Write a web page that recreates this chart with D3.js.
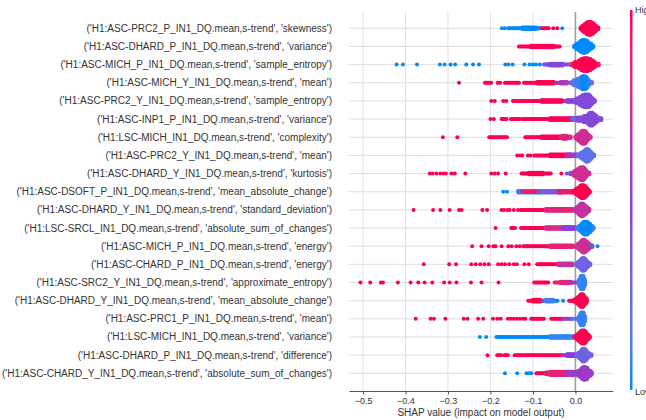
<!DOCTYPE html>
<html>
<head>
<meta charset="utf-8">
<script src="https://cdn.jsdelivr.net/npm/d3@7"></script>
<style>
  html, body { margin: 0; padding: 0; background: #fff; }
  svg { display: block; font-family: "Liberation Sans", Arial, sans-serif; }
</style>
</head>
<body>
<div id="chart"></div>
<script>
// feature names, top to bottom
const features = [
  "('H1:ASC-PRC2_P_IN1_DQ.mean,s-trend', 'skewness')",
  "('H1:ASC-DHARD_P_IN1_DQ.mean,s-trend', 'variance')",
  "('H1:ASC-MICH_P_IN1_DQ.mean,s-trend', 'sample_entropy')",
  "('H1:ASC-MICH_Y_IN1_DQ.mean,s-trend', 'mean')",
  "('H1:ASC-PRC2_Y_IN1_DQ.mean,s-trend', 'sample_entropy')",
  "('H1:ASC-INP1_P_IN1_DQ.mean,s-trend', 'variance')",
  "('H1:LSC-MICH_IN1_DQ.mean,s-trend', 'complexity')",
  "('H1:ASC-PRC2_Y_IN1_DQ.mean,s-trend', 'mean')",
  "('H1:ASC-DHARD_Y_IN1_DQ.mean,s-trend', 'kurtosis')",
  "('H1:ASC-DSOFT_P_IN1_DQ.mean,s-trend', 'mean_absolute_change')",
  "('H1:ASC-DHARD_Y_IN1_DQ.mean,s-trend', 'standard_deviation')",
  "('H1:LSC-SRCL_IN1_DQ.mean,s-trend', 'absolute_sum_of_changes')",
  "('H1:ASC-MICH_P_IN1_DQ.mean,s-trend', 'energy')",
  "('H1:ASC-CHARD_P_IN1_DQ.mean,s-trend', 'energy')",
  "('H1:ASC-SRC2_Y_IN1_DQ.mean,s-trend', 'approximate_entropy')",
  "('H1:ASC-DHARD_Y_IN1_DQ.mean,s-trend', 'mean_absolute_change')",
  "('H1:ASC-PRC1_P_IN1_DQ.mean,s-trend', 'mean')",
  "('H1:LSC-MICH_IN1_DQ.mean,s-trend', 'variance')",
  "('H1:ASC-DHARD_P_IN1_DQ.mean,s-trend', 'difference')",
  "('H1:ASC-CHARD_Y_IN1_DQ.mean,s-trend', 'absolute_sum_of_changes')"
];

// single dots: [shap value, feature value 0..1]
const singleDots = [
  [[-0.173,0],[-0.166,0],[-0.052,1],[-0.043,1],[-0.031,0]],
  [],
  [[-0.421,0],[-0.406,0],[-0.373,0],[-0.319,0],[-0.308,0],[-0.294,0],[-0.283,0],[-0.257,0],[-0.241,0],[-0.227,0],
   [-0.165,0],[-0.158,0],[-0.148,0],[-0.12,0],[-0.108,0],[-0.1,0],[-0.093,0],[-0.084,0]],
  [[-0.274,1]],
  [[-0.198,1],[-0.19,1],[-0.17,1],[-0.163,1]],
  [[-0.2,1],[-0.192,1]],
  [[-0.312,1],[-0.278,1]],
  [[-0.137,1],[-0.131,1],[-0.125,1],[-0.112,1],[-0.106,1]],
  [[-0.343,1],[-0.336,1],[-0.327,1],[-0.318,1],[-0.311,1],[-0.305,1],[-0.292,1],[-0.284,1],[-0.259,1],
   [-0.198,1],[-0.19,1],[-0.182,1],[-0.164,1],[-0.033,1],[-0.02,0.45]],
  [[-0.17,0],[-0.161,0]],
  [[-0.381,1],[-0.335,1],[-0.318,1],[-0.296,1],[-0.274,1],[-0.268,1],[-0.219,1],[-0.208,1],
   [-0.174,1],[-0.168,1],[-0.16,1],[-0.155,1],[-0.145,1],[-0.135,1]],
  [[-0.188,1]],
  [[-0.243,1],[-0.221,1],[-0.204,1],[-0.193,1],[-0.188,1],[-0.174,1],[-0.158,1],[-0.15,1],[-0.139,1],
   [-0.131,1],[-0.123,1],[0.038,0],[0.052,0]],
  [[-0.357,1],[-0.297,1],[-0.281,1],[-0.245,1],[-0.235,1],[-0.224,1],[-0.214,1],[-0.204,1],[-0.182,1],
   [-0.174,1],[-0.166,1],[-0.156,1],[-0.145,1],[-0.138,1],[-0.12,1],[-0.11,1]],
  [[-0.506,1],[-0.483,1],[-0.458,1],[-0.453,1],[-0.418,1],[-0.388,1],[-0.37,1],[-0.355,1],[-0.337,1],
   [-0.309,1],[-0.296,1],[-0.28,1],[-0.246,1],[-0.221,1],[-0.181,1]],
  [[-0.029,0]],
  [[-0.376,1],[-0.341,1],[-0.333,1],[-0.306,1],[-0.263,1],[-0.254,1],[-0.229,1],[-0.217,1],[-0.194,1],
   [-0.184,1],[-0.176,1],[-0.159,1],[-0.152,1],[-0.145,1],[-0.138,1],[-0.131,1],[-0.124,1],[-0.118,1]],
  [[-0.225,0],[-0.21,0]],
  [[-0.207,1]],
  [[-0.166,0],[-0.137,0],[-0.115,0],[-0.11,0],[-0.104,0]]
];

// dense runs: [shap from, shap to, stack count, feature value 0..1]
const denseRuns = [
  [[-0.158,-0.08,1,0],[-0.125,-0.09,2,0],[-0.078,-0.062,1,1],
   [0.012,0.055,2,1],[0.016,0.05,4,1],[0.021,0.046,6,1],[0.026,0.041,8,1],[0.03,0.037,9,1]],
  [[-0.133,-0.035,1,1],[-0.105,-0.05,2,1],
   [-0.003,0.043,2,0],[0.002,0.039,4,0],[0.008,0.034,6,0],[0.013,0.029,8,0],[0.017,0.025,9,0]],
  [[-0.075,-0.065,1,0.2],[-0.068,-0.01,1,0.45],[-0.06,-0.03,2,0.45],[-0.012,0.0,1,0.3],
   [-0.008,0.055,2,0.9],[-0.002,0.048,4,1],[0.008,0.042,6,1],[0.014,0.036,8,1],[0.02,0.03,9,1]],
  [[-0.213,-0.198,1,1],[-0.183,-0.175,1,1],[-0.166,-0.131,1,1],[-0.121,-0.045,1,1],[-0.09,-0.05,2,1],
   [-0.045,-0.015,1,0.55],[-0.035,-0.02,2,0.6],
   [-0.009,0.04,2,0.2],[-0.004,0.034,4,0.15],[0.005,0.03,6,0.1],[0.012,0.027,8,0.05],[0.017,0.024,9,0]],
  [[-0.147,-0.025,1,1],[-0.08,-0.03,2,1],[-0.025,-0.003,1,0.55],[-0.02,-0.005,2,0.5],
   [-0.005,0.048,2,0.45],[0.002,0.043,4,0.45],[0.01,0.039,6,0.45],[0.016,0.035,8,0.45],[0.022,0.032,9,0.45]],
  [[-0.174,-0.16,1,1],[-0.152,-0.13,1,1],[-0.125,-0.005,1,1],[-0.06,-0.005,2,1],[-0.01,0.0,2,0.5],
   [-0.005,0.062,2,0.45],[-0.004,0.006,2,0.25],[0.005,0.055,3,0.45],[0.02,0.05,5,0.45],[0.03,0.045,7,0.45],[0.034,0.041,9,0.45]],
  [[-0.203,-0.16,1,1],[-0.118,-0.036,1,1],[-0.08,-0.036,2,1],[-0.035,-0.01,2,0.8],[-0.03,-0.02,3,0.85],
   [0.0,0.036,2,0.75],[0.004,0.032,4,0.75],[0.009,0.028,6,0.75],[0.013,0.025,8,0.75],[0.016,0.022,9,0.75]],
  [[-0.097,-0.01,1,1],[-0.06,-0.01,2,1],[-0.02,0.005,2,0.55],
   [0.005,0.045,2,0.25],[0.012,0.04,4,0.2],[0.018,0.037,6,0.2],[0.023,0.034,8,0.2],[0.026,0.031,9,0.2]],
  [[-0.127,-0.057,1,1],[-0.11,-0.075,2,1],[-0.012,-0.003,2,0.4],
   [-0.006,0.033,2,0.75],[-0.003,0.028,4,0.75],[0.003,0.025,6,0.75],[0.009,0.022,8,0.75],[0.013,0.019,9,0.75]],
  [[-0.135,-0.085,2,0.05],[-0.125,-0.06,1,0.9],[-0.085,-0.03,2,0.35],[-0.04,-0.005,2,0.9],
   [-0.005,0.036,2,1],[0.0,0.031,4,1],[0.006,0.027,6,1],[0.011,0.023,8,1],[0.014,0.02,9,1]],
  [[-0.129,-0.005,1,1],[-0.07,-0.005,2,0.85],
   [-0.003,0.034,2,0.7],[0.002,0.03,4,0.7],[0.007,0.026,6,0.7],[0.011,0.022,8,0.7],[0.014,0.019,9,0.7]],
  [[-0.151,-0.14,1,1],[-0.128,-0.005,1,1],[-0.07,-0.005,2,0.8],[-0.03,0.0,2,0.5],
   [0.004,0.045,2,0.05],[0.009,0.04,4,0.05],[0.014,0.035,6,0],[0.018,0.031,8,0],[0.021,0.027,9,0]],
  [[-0.119,-0.005,1,1],[-0.06,-0.005,2,0.85],
   [0.001,0.04,2,0.75],[0.006,0.035,4,0.75],[0.011,0.03,6,0.75],[0.015,0.026,8,0.75],[0.018,0.023,9,0.75]],
  [[-0.09,-0.04,1,1],[-0.04,-0.005,2,0.7],
   [0.002,0.037,2,0.3],[0.006,0.032,4,0.3],[0.011,0.028,6,0.3],[0.014,0.025,8,0.3],[0.017,0.022,9,0.3]],
  [[-0.097,-0.064,1,1],[-0.049,-0.009,1,0.9],[-0.035,-0.01,2,0.8],[-0.008,0.004,1,0.5],
   [0.008,0.024,4,0.1],[0.011,0.021,7,0.05],[0.013,0.019,9,0.05]],
  [[-0.111,-0.072,1,1],[-0.1,-0.08,2,1],[-0.075,-0.041,1,0],[-0.07,-0.05,2,0.1],[-0.015,-0.003,1,1],
   [-0.003,0.029,2,1],[0.002,0.026,4,1],[0.007,0.024,6,1],[0.011,0.021,8,1],[0.014,0.019,9,1]],
  [[-0.104,-0.072,1,1],[-0.057,-0.03,1,1],[-0.03,-0.009,1,0.55],[-0.009,0.003,1,0.2],
   [0.008,0.024,4,0.1],[0.011,0.021,7,0.05],[0.013,0.019,9,0.05]],
  [[-0.186,-0.005,1,0],[-0.06,-0.005,2,0.05],
   [-0.002,0.036,2,1],[0.003,0.032,4,1],[0.008,0.028,6,1],[0.012,0.024,8,1],[0.015,0.021,9,1]],
  [[-0.184,-0.175,1,1],[-0.168,-0.159,1,1],[-0.143,-0.03,1,1],[-0.03,0.0,1,0.55],[-0.02,0.0,2,0.5],
   [0.002,0.038,2,0.3],[0.007,0.033,4,0.3],[0.012,0.029,6,0.3],[0.015,0.026,8,0.3],[0.018,0.023,9,0.3]],
  [[-0.092,-0.005,1,1],[-0.07,-0.005,2,0.9],[-0.06,-0.01,3,0.85],[-0.02,0.0,3,0.55],
   [0.0,0.041,2,0.55],[0.006,0.036,4,0.55],[0.012,0.031,6,0.55],[0.016,0.028,8,0.55],[0.02,0.025,9,0.55]]
];

const xTicks = [-0.5, -0.4, -0.3, -0.2, -0.1, 0.0];

const width = 646, height = 420;
const plotLeft = 349, plotRight = 613, plotTop = 12, plotBottom = 391;

const x = d3.scaleLinear().domain([-0.533, 0.0885]).range([plotLeft, plotRight]);
const y = d3.scaleLinear().domain([0, features.length - 1]).range([28.3, 373.3]);

const color = d3.scaleLinear()
  .domain([0, 0.5, 1])
  .range(["#008bfb", "#8a3fd6", "#ff0051"])
  .interpolate(d3.interpolateLab);

const svg = d3.select("#chart").append("svg")
  .attr("width", width)
  .attr("height", height);

// vertical grid
svg.append("g")
  .selectAll("line")
  .data(xTicks.filter(d => d !== 0))
  .join("line")
  .attr("x1", d => x(d)).attr("x2", d => x(d))
  .attr("y1", plotTop).attr("y2", plotBottom)
  .attr("stroke", "#e2e2e2");

// horizontal row lines
svg.append("g")
  .selectAll("line")
  .data(features)
  .join("line")
  .attr("x1", plotLeft).attr("x2", plotRight)
  .attr("y1", (d, i) => y(i)).attr("y2", (d, i) => y(i))
  .attr("stroke", "#dedede");

// zero line
svg.append("line")
  .attr("x1", x(0)).attr("x2", x(0))
  .attr("y1", plotTop).attr("y2", plotBottom)
  .attr("stroke", "#a0a0a0")
  .attr("stroke-width", 1.6);

// dots
const step = 0.003, layer = 1.6;
const dots = [];
denseRuns.forEach((runs, i) => {
  runs.forEach(([x0, x1, n, c]) => {
    for (let v = x0; v <= x1 + 1e-9; v += step) {
      for (let k = 0; k < n; k++) {
        dots.push({ v, row: i, off: (k - (n - 1) / 2) * layer, c });
      }
    }
  });
});
singleDots.forEach((list, i) => {
  list.forEach(([v, c]) => dots.push({ v, row: i, off: 0, c }));
});

svg.append("g")
  .selectAll("circle")
  .data(dots)
  .join("circle")
  .attr("cx", d => x(d.v))
  .attr("cy", d => y(d.row) + d.off)
  .attr("r", 2)
  .attr("fill", d => color(d.c));

// feature labels
svg.append("g")
  .selectAll("text")
  .data(features)
  .join("text")
  .attr("x", 332)
  .attr("y", (d, i) => y(i))
  .attr("dy", "0.35em")
  .attr("text-anchor", "end")
  .attr("font-size", 10)
  .attr("fill", "#333")
  .text(d => d);

// x axis
const axis = svg.append("g")
  .attr("transform", `translate(0,${plotBottom})`)
  .call(d3.axisBottom(x).tickValues(xTicks).tickFormat(d3.format(".1f")).tickSize(3.5).tickSizeOuter(0));
axis.select(".domain").attr("stroke", "#555");
axis.selectAll(".tick line").attr("stroke", "#555");
axis.selectAll(".tick text")
  .attr("font-size", 9)
  .attr("fill", "#333")
  .attr("font-family", "'Liberation Sans', Arial, sans-serif");

svg.append("text")
  .attr("x", (plotLeft + plotRight) / 2)
  .attr("y", 416)
  .attr("text-anchor", "middle")
  .attr("font-size", 10)
  .attr("fill", "#333")
  .text("SHAP value (impact on model output)");

// colour bar
const grad = svg.append("defs").append("linearGradient")
  .attr("id", "cbar")
  .attr("x1", 0).attr("x2", 0).attr("y1", 0).attr("y2", 1);
d3.range(0, 1.0001, 0.1).forEach(t => {
  grad.append("stop").attr("offset", t).attr("stop-color", color(1 - t));
});
svg.append("rect")
  .attr("x", 630).attr("y", 10)
  .attr("width", 2.5).attr("height", 380)
  .attr("fill", "url(#cbar)");

svg.append("text")
  .attr("x", 635).attr("y", 10).attr("dy", "0.35em")
  .attr("font-size", 9).attr("fill", "#333")
  .text("High");
svg.append("text")
  .attr("x", 635).attr("y", 392).attr("dy", "0.35em")
  .attr("font-size", 9).attr("fill", "#333")
  .text("Low");
</script>
</body>
</html>
